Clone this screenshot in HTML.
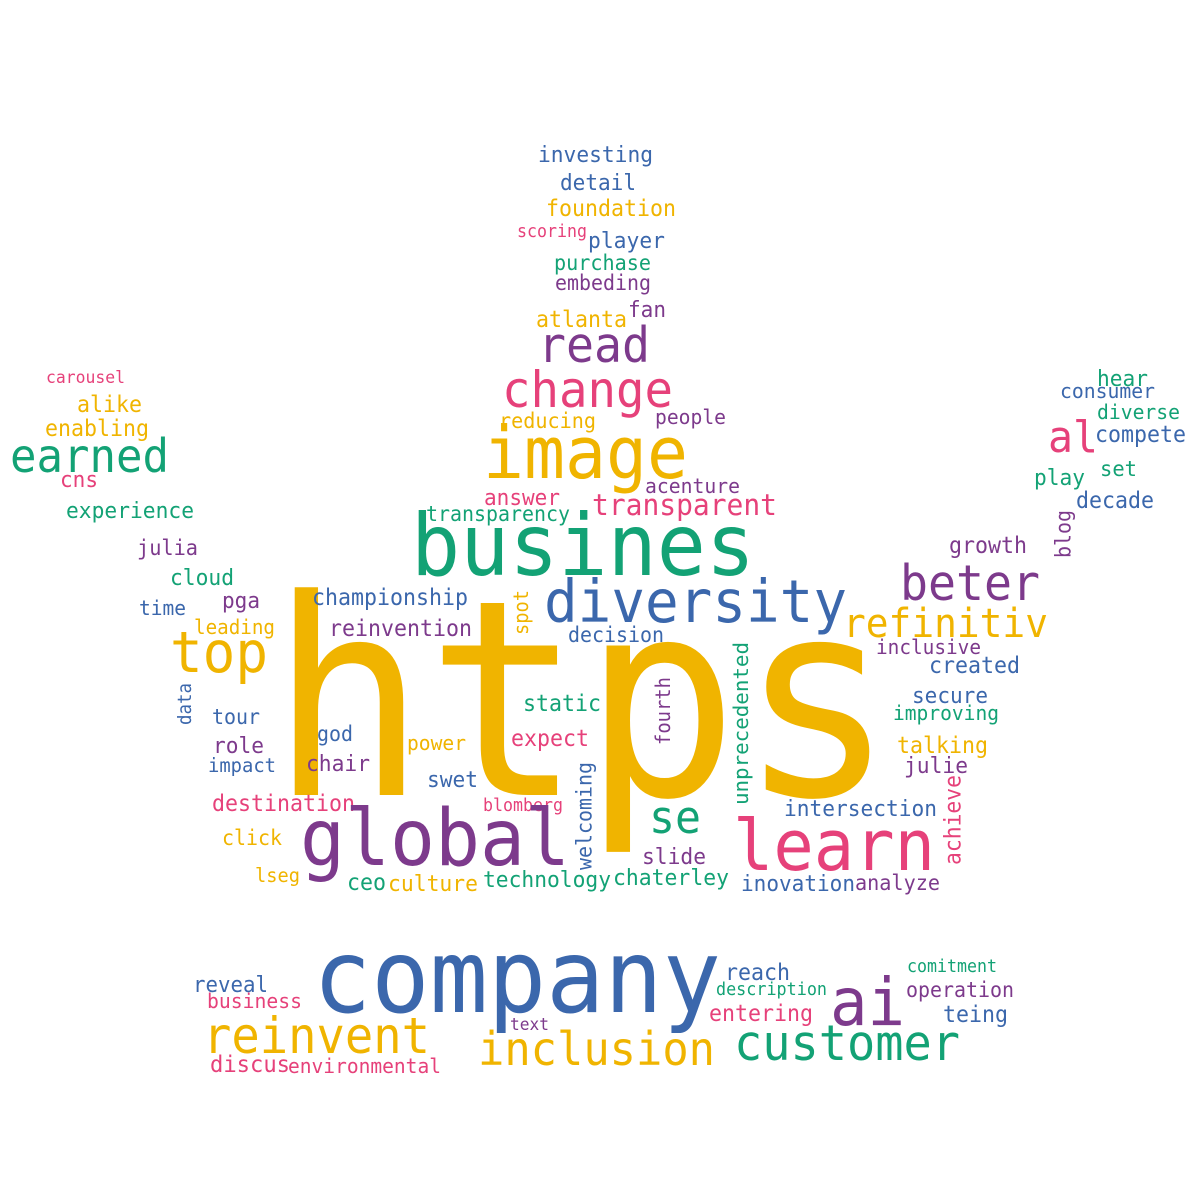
<!DOCTYPE html>
<html><head><meta charset="utf-8">
<style>
html,body{margin:0;padding:0;background:#fff;}
svg{display:block;}
text{font-family:"WenQuanYi Zen Hei","DejaVu Sans Mono","Liberation Mono",monospace;}
</style></head>
<body>
<svg id="cloud" width="1200" height="1200" viewBox="0 0 1200 1200" xmlns="http://www.w3.org/2000/svg">
<rect width="1200" height="1200" fill="#fff"/>
</svg>
<script>
const words = ["htps","investing","detail","foundation","scoring","player","purchase","embeding","fan","atlanta","read","change","people","reducing","image","al","carousel","alike","enabling","earned","cns","experience","hear","consumer","diverse","compete","set","play","decade","blog","acenture","answer","transparent","transparency","busines","growth","julia","cloud","beter","diversity","time","pga","championship","spot","refinitiv","leading","reinvention","decision","top","inclusive","created","unprecedented","data","secure","static","fourth","tour","improving","god","role","power","expect","talking","impact","chair","julie","swet","welcoming","achieve","destination","blomberg","intersection","global","se","learn","click","slide","lseg","ceo","culture","technology","chaterley","inovation","analyze","company","ai","comitment","reach","description","operation","reveal","business","entering","teing","text","reinvent","inclusion","customer","discus","environmental"];
const colorKeys = ["y","b","b","y","p","b","g","u","u","y","u","p","u","y","y","p","p","y","y","g","p","g","g","b","g","b","g","g","b","u","u","p","p","g","g","u","u","g","u","b","b","u","b","y","y","y","u","b","y","u","b","g","b","b","g","u","b","g","b","u","y","p","y","b","u","u","b","b","p","p","p","b","u","g","p","y","u","y","g","y","g","g","b","u","b","u","g","b","g","u","b","p","p","b","u","y","y","g","p","p"];
// [left, right, baseline] for horizontal; for vertical: [left, right, bottom, top]
const boxes = [[270,895,795],[538,653,162],[560,636,190],[546,676,216],[517,587,237],[588,665,248],[554,651,270],[555,651,290],[628,666,317],[536,627,327],[538,650,362],[502,673,407],[655,726,424],[499,596,428],[483,688,478],[1048,1098,452],[46,125,383],[77,142,412],[45,149,436],[10,169,472],[60,98,487],[66,194,518],[1097,1148,386],[1060,1155,398],[1097,1180,419],[1095,1186,442],[1100,1137,476],[1034,1085,485],[1076,1154,508],[1055,1075,558,510],[645,740,493],[484,560,505],[592,777,515],[426,570,521],[411,755,575],[949,1027,553],[137,198,555],[170,234,585],[900,1040,600],[544,847,622],[139,186,615],[222,260,608],[312,468,605],[515,532,635,590],[843,1048,637],[194,275,634],[329,472,636],[568,664,642],[170,268,672],[876,981,654],[929,1020,673],[735,752,805,642],[178,195,725,683],[912,988,703],[523,601,711],[656,674,745,677],[212,260,724],[893,999,720],[317,353,741],[213,264,753],[407,466,750],[511,589,746],[897,988,753],[208,276,772],[306,370,771],[904,968,773],[427,478,787],[578,596,870,762],[946,965,865,775],[212,355,811],[483,563,811],[784,937,816],[300,570,865],[649,701,833],[733,935,870],[222,282,845],[642,706,864],[255,300,882],[347,386,890],[388,478,891],[483,611,887],[613,729,885],[741,855,891],[855,940,890],[313,721,1012],[830,905,1025],[907,997,972],[725,790,980],[716,827,995],[906,1014,997],[193,268,992],[207,302,1008],[709,813,1021],[943,1008,1022],[510,549,1030],[203,430,1053],[478,715,1065],[734,960,1060],[210,290,1072],[288,441,1073]];
const palette = {y:"#f0b400", g:"#13a275", b:"#3b67ac", u:"#7d3a8c", p:"#e6417a"};

const svg = document.getElementById('cloud');
const NS = "http://www.w3.org/2000/svg";
words.forEach((w, i) => {
  const bx = boxes[i];
  const t = document.createElementNS(NS, 'text');
  
  
  t.setAttribute('fill', palette[colorKeys[i]]);
  t.setAttribute('lengthAdjust', 'spacingAndGlyphs');
  t.textContent = w;
  if (bx.length === 3) {
    const len = bx[1] - bx[0];
    const fs = len / w.length * 1.75;
    t.setAttribute('x', bx[0]);
    t.setAttribute('y', bx[2]);
    t.setAttribute('font-size', fs.toFixed(1));
    t.setAttribute('textLength', len);
  } else {
    const len = bx[2] - bx[3];
    const thick = bx[1] - bx[0];
    const fs = Math.min(len / w.length * 1.8, thick * 1.2);
    const x = bx[1] - fs * 0.2;
    t.setAttribute('x', x);
    t.setAttribute('y', bx[2]);
    t.setAttribute('font-size', fs.toFixed(1));
    t.setAttribute('textLength', len);
    t.setAttribute('transform', 'rotate(-90 ' + x + ' ' + bx[2] + ')');
  }
  svg.appendChild(t);
});
</script>
</body></html>
